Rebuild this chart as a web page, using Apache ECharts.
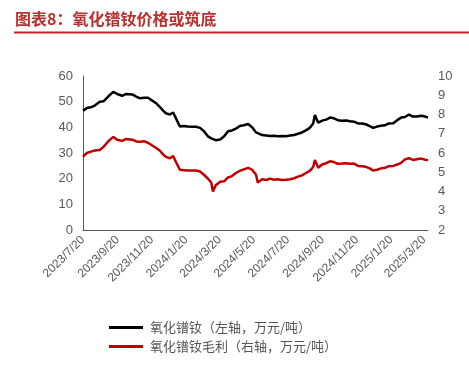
<!DOCTYPE html>
<html>
<head>
<meta charset="utf-8">
<script src="https://cdn.jsdelivr.net/npm/echarts@6/dist/echarts.min.js"></script>
<style>
html,body{margin:0;padding:0;background:#fff;}
#c{width:469px;height:386px;}
</style>
</head>
<body>
<div id="c"></div>
<script>
// ---- data ----
const titleText = '图表8：氧化镨钕价格或筑底';
const seriesNames = ['氧化镨钕（左轴，万元/吨）', '氧化镨钕毛利（右轴，万元/吨）'];
const startDate = '2023/7/20';
const endDate = '2025/3/27';
const sampleDates = ['2023/7/20','2023/7/27','2023/8/3','2023/8/10','2023/8/19','2023/8/26','2023/9/3','2023/9/12','2023/9/19','2023/9/28','2023/10/5','2023/10/8','2023/10/16','2023/10/23','2023/10/30','2023/11/6','2023/11/13','2023/11/20','2023/11/27','2023/12/4','2023/12/10','2023/12/15','2023/12/22','2023/12/28','2024/1/2','2024/1/9','2024/1/16','2024/1/23','2024/1/31','2024/2/7','2024/2/14','2024/2/21','2024/2/28','2024/3/5','2024/3/8','2024/3/13','2024/3/21','2024/3/28','2024/4/4','2024/4/11','2024/4/18','2024/4/25','2024/5/2','2024/5/10','2024/5/17','2024/5/24','2024/5/27','2024/6/4','2024/6/11','2024/6/18','2024/6/25','2024/7/2','2024/7/9','2024/7/16','2024/7/24','2024/7/31','2024/8/7','2024/8/14','2024/8/21','2024/8/28','2024/9/3','2024/9/6','2024/9/12','2024/9/19','2024/9/26','2024/10/3','2024/10/10','2024/10/17','2024/10/24','2024/11/1','2024/11/8','2024/11/15','2024/11/22','2024/11/29','2024/12/6','2024/12/13','2024/12/19','2024/12/26','2025/1/2','2025/1/9','2025/1/16','2025/1/24','2025/1/31','2025/2/7','2025/2/14','2025/2/21','2025/2/28','2025/3/7','2025/3/15','2025/3/22','2025/3/27'];
const priceValues = [46.5,47.5,47.8,48.5,50,50.2,52,53.8,53,52.3,53,53.5,52.8,52,51.3,51.5,51.5,50.5,49.5,48,46.5,45.5,45,45.8,43.5,40.3,40.5,40.3,40.2,40.2,39.8,38.5,36.5,35.7,35.3,35,35.3,36.5,38.5,38.8,39.5,40.5,40.8,41.3,40,38,37.5,37,36.8,36.6,36.7,36.5,36.6,36.5,36.8,37,37.5,38,38.8,39.8,41.5,44.8,41.8,42.6,43,43.8,43.5,42.8,42.6,42.7,42.4,42.2,41.5,41.5,41.2,40.5,39.8,40.3,40.6,40.8,41.5,41.6,42.8,43.8,44,45,44.2,44.2,44.5,44.2,43.8];
const marginValues = [5.81,6.0,6.07,6.13,6.16,6.33,6.6,6.84,6.69,6.63,6.73,6.8,6.69,6.6,6.59,6.61,6.53,6.4,6.27,6.13,5.93,5.8,5.73,5.84,5.53,5.13,5.11,5.09,5.09,5.09,5.04,4.87,4.67,4.47,4.0,4.33,4.51,4.53,4.73,4.8,4.96,5.07,5.15,5.23,5.13,4.87,4.47,4.64,4.6,4.67,4.61,4.64,4.6,4.61,4.64,4.69,4.77,4.84,4.96,5.07,5.27,5.64,5.23,5.4,5.47,5.57,5.53,5.44,5.45,5.47,5.44,5.45,5.33,5.31,5.28,5.2,5.09,5.13,5.2,5.23,5.31,5.33,5.4,5.49,5.67,5.73,5.64,5.68,5.71,5.65,5.63];
const leftTicks = {min: 0, max: 60, interval: 10};
const rightTicks = {min: 2, max: 10, interval: 1};
const labelMonths = [1, 3, 5, 7, 9, 11];
const labelDay = 20;

// ---- build calendar categories ----
function fmt(d){return d.getFullYear()+'/'+(d.getMonth()+1)+'/'+d.getDate();}
function parse(s){const p=s.split('/').map(Number);return new Date(p[0],p[1]-1,p[2]);}
const categories = [];
const catIndex = {};
for (let d = parse(startDate); d <= parse(endDate); d.setDate(d.getDate()+1)) {
  const s = fmt(d); catIndex[s] = categories.length; categories.push(s);
}
const priceData = sampleDates.map((d,i)=>[catIndex[d], priceValues[i]]);
const marginData = sampleDates.map((d,i)=>[catIndex[d], marginValues[i]]);

const gray = '#595959';
const chart = echarts.init(document.getElementById('c'), null, {renderer:'canvas'});
chart.setOption({
  animation: false,
  backgroundColor: '#fff',
  graphic: [
    {type:'text', left: 15, top: 11, style:{text: titleText, font: 'bold 16px "Noto Sans CJK SC"', fill:'#b8312f'}},
    {type:'line', shape:{x1:14, y1:32.5, x2:469, y2:32.5}, style:{stroke:'#c8202a', lineWidth:2}}
  ],
  legend: {
    orient: 'vertical', left: 104, top: 316, itemWidth: 34, itemHeight: 3, itemGap: 6,
    icon: 'rect',
    textStyle: {fontSize: 13, color: '#555', fontFamily: '"Noto Sans CJK SC"', padding:[0,0,0,2]},
    data: seriesNames
  },
  grid: {left: 83, right: 41, top: 76, bottom: 156, containLabel: false},
  xAxis: {
    type: 'category', data: categories, boundaryGap: false,
    axisLine: {lineStyle: {color: gray, width: 1}},
    axisTick: {show: false},
    axisLabel: {
      rotate: 45, fontSize: 12, color: gray, fontFamily: '"Liberation Sans"', margin: 8,
      interval: function(idx, val){const p = val.split('/').map(Number); return p[2]===labelDay && labelMonths.indexOf(p[1])>=0;}
    },
    splitLine: {show: false}
  },
  yAxis: [
    {type:'value', min:leftTicks.min, max:leftTicks.max, interval:leftTicks.interval,
     axisLine:{show:true, lineStyle:{color:gray}}, axisTick:{show:false}, splitLine:{show:false},
     axisLabel:{fontSize:13, color:gray, fontFamily:'"Liberation Sans"', margin: 10}},
    {type:'value', min:rightTicks.min, max:rightTicks.max, interval:rightTicks.interval, position:'right',
     axisLine:{show:false}, axisTick:{show:false}, splitLine:{show:false},
     axisLabel:{fontSize:13, color:gray, fontFamily:'"Liberation Sans"', margin: 10}}
  ],
  series: [
    {name: seriesNames[0], type:'line', data: priceData, yAxisIndex:0, showSymbol:false,
     lineStyle:{color:'#000', width:2.5}, itemStyle:{color:'#000'}},
    {name: seriesNames[1], type:'line', data: marginData, yAxisIndex:1, showSymbol:false,
     lineStyle:{color:'#c00000', width:2.5}, itemStyle:{color:'#c00000'}}
  ]
});
</script>
</body>
</html>
